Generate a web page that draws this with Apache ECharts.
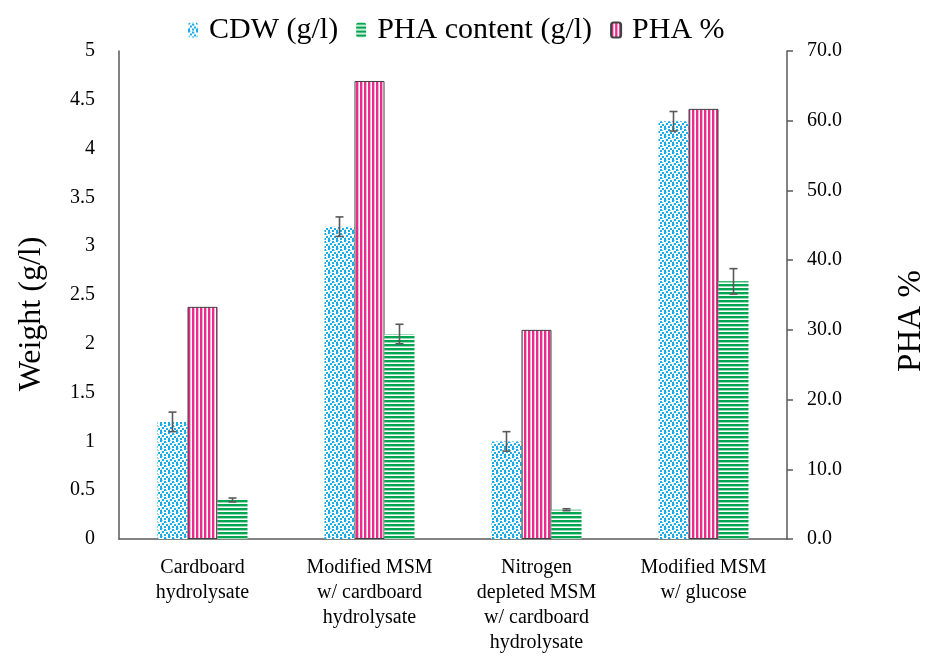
<!DOCTYPE html>
<html>
<head>
<meta charset="utf-8">
<style>
  html, body { margin: 0; padding: 0; background: #fff; }
  #chart { width: 927px; height: 659px; }
</style>
<script src="https://cdn.jsdelivr.net/npm/echarts@6/dist/echarts.min.js"></script>
</head>
<body>
<div id="chart"></div>
<script>
// Growth conditions (x categories)
const categories = [
  'Cardboard\nhydrolysate',
  'Modified MSM\nw/ cardboard\nhydrolysate',
  'Nitrogen\ndepleted MSM\nw/ cardboard\nhydrolysate',
  'Modified MSM\nw/ glucose'
];

// Cell dry weight (g/l) and its standard deviation
const cdw = [1.2, 3.2, 1.0, 4.28];
const cdwErr = [0.1, 0.1, 0.1, 0.1];

// PHA content (g/l) and its standard deviation
const phaContent = [0.4, 2.1, 0.3, 2.64];
const phaContentErr = [0.02, 0.1, 0.01, 0.13];

// PHA share of dry weight (%)
const phaPercent = [33.3, 65.7, 30.0, 61.7];

// Axis tick settings
const weightMax = 5, weightStep = 0.5;
const percentMax = 70, percentStep = 10;

const FONT = '"Liberation Serif", "Times New Roman", serif';
const AXIS_GREY = '#595959';
const BAR_W = 30;

// Fill patterns drawn on small canvas tiles
function makeTile(w, h, draw) {
  const c = document.createElement('canvas');
  c.width = w; c.height = h;
  const ctx = c.getContext('2d');
  ctx.fillStyle = '#ffffff';
  ctx.fillRect(0, 0, w, h);
  draw(ctx);
  return { image: c, repeat: 'repeat' };
}

const dotsFill = makeTile(8, 8, ctx => {
  ctx.fillStyle = '#18ade8';
  [[0, 0], [4, 1], [2, 3], [6, 4], [0, 6], [4, 6]].forEach(p => ctx.fillRect(p[0], p[1], 2, 2));
  ctx.fillStyle = '#8fd6f3';
  [[2, 0], [6, 2], [1, 5]].forEach(p => ctx.fillRect(p[0], p[1], 1, 1));
});

const hStripeFill = makeTile(4, 4, ctx => {
  ctx.fillStyle = '#00a651';
  ctx.fillRect(0, 0, 4, 2);
  ctx.fillStyle = '#9fdab7';
  ctx.fillRect(0, 2, 4, 1);
});

const vStripeFill = makeTile(4, 4, ctx => {
  ctx.fillStyle = '#ea2c8c';
  ctx.fillRect(0, 0, 2, 4);
  ctx.fillStyle = '#f7b3d4';
  ctx.fillRect(2, 0, 1, 4);
});

// Error bars drawn over a bar that is shifted by `offset` px from the category centre
function errorSeries(values, errors, offset) {
  return {
    type: 'custom',
    xAxisIndex: 0,
    yAxisIndex: 0,
    z: 5,
    silent: true,
    data: values.map((v, i) => [i, v, errors[i]]),
    renderItem(params, api) {
      const i = api.value(0), v = api.value(1), e = api.value(2);
      const hi = api.coord([i, v + e]);
      const lo = api.coord([i, v - e]);
      const x = hi[0] + offset;
      const cap = 4;
      const style = { stroke: AXIS_GREY, lineWidth: 1.6 };
      return {
        type: 'group',
        children: [
          { type: 'line', shape: { x1: x, y1: hi[1], x2: x, y2: lo[1] }, style },
          { type: 'line', shape: { x1: x - cap, y1: hi[1], x2: x + cap, y2: hi[1] }, style },
          { type: 'line', shape: { x1: x - cap, y1: lo[1], x2: x + cap, y2: lo[1] }, style }
        ]
      };
    }
  };
}

const chart = echarts.init(document.getElementById('chart'), null, { renderer: 'canvas' });

chart.setOption({
  animation: false,
  backgroundColor: '#ffffff',
  textStyle: { fontFamily: FONT },
  grid: { left: 119, right: 140, top: 51, bottom: 120, containLabel: false },
  legend: {
    top: 10,
    left: 183,
    itemWidth: 10,
    itemHeight: 15,
    itemGap: 18,
    data: ['CDW (g/l)', 'PHA content (g/l)', 'PHA %'],
    textStyle: { fontFamily: FONT, fontSize: 30, color: '#000', padding: [0, 0, 0, 6] }
  },
  xAxis: {
    type: 'category',
    data: categories,
    axisLine: { lineStyle: { color: AXIS_GREY, width: 1.5 } },
    axisTick: { show: false },
    axisLabel: {
      fontFamily: FONT, fontSize: 20, color: '#000',
      lineHeight: 25, margin: 16, interval: 0
    }
  },
  yAxis: [
    {
      type: 'value',
      min: 0, max: weightMax, interval: weightStep,
      position: 'left',
      splitLine: { show: false },
      axisLine: { show: true, lineStyle: { color: AXIS_GREY, width: 1.5 } },
      axisTick: { show: false },
      axisLabel: { fontFamily: FONT, fontSize: 20, color: '#000', margin: 24 }
    },
    {
      type: 'value',
      min: 0, max: percentMax, interval: percentStep,
      position: 'right',
      splitLine: { show: false },
      axisLine: { show: true, lineStyle: { color: AXIS_GREY, width: 1.5 } },
      axisTick: { show: true, length: 6, lineStyle: { color: AXIS_GREY, width: 1.5 } },
      axisLabel: {
        fontFamily: FONT, fontSize: 20, color: '#000', margin: 20,
        formatter: v => v.toFixed(1)
      }
    }
  ],
  graphic: [
    {
      type: 'text', x: 32, y: 314, rotation: Math.PI / 2,
      style: {
        text: 'Weight (g/l)', font: '32px ' + FONT, fill: '#000',
        textAlign: 'center', textVerticalAlign: 'middle'
      }
    },
    {
      type: 'text', x: 911, y: 321, rotation: Math.PI / 2,
      style: {
        text: 'PHA %', font: '33px ' + FONT, fill: '#000',
        textAlign: 'center', textVerticalAlign: 'middle'
      }
    }
  ],
  series: [
    {
      name: 'CDW (g/l)', type: 'bar', yAxisIndex: 0,
      data: cdw, barWidth: BAR_W, barGap: '0%',
      itemStyle: { color: dotsFill }
    },
    {
      name: 'PHA %', type: 'bar', yAxisIndex: 1,
      data: phaPercent, barWidth: BAR_W, barGap: '0%',
      itemStyle: { color: vStripeFill, borderColor: '#404040', borderWidth: 1 }
    },
    {
      name: 'PHA content (g/l)', type: 'bar', yAxisIndex: 0,
      data: phaContent, barWidth: BAR_W, barGap: '0%',
      itemStyle: { color: hStripeFill }
    },
    errorSeries(cdw, cdwErr, -BAR_W),
    errorSeries(phaContent, phaContentErr, BAR_W)
  ]
});
</script>
</body>
</html>
